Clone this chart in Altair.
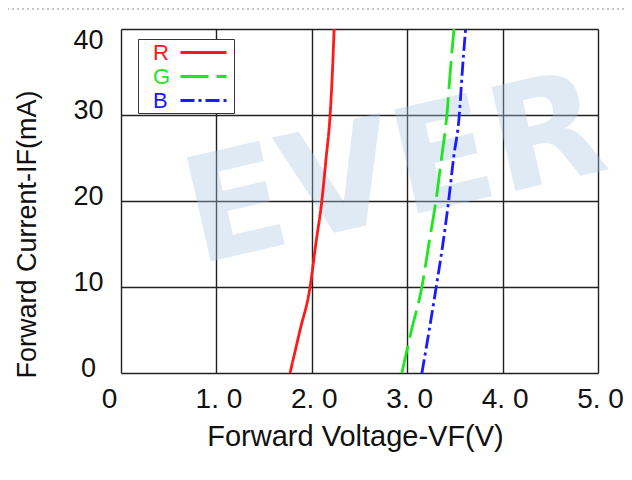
import altair as alt
import pandas as pd

# Forward current (mA) and forward voltages (V)
current_mA = [0, 5, 10, 15, 20, 25, 30, 35, 40]
vf_red = [1.772, 1.877, 1.982, 2.042, 2.105, 2.150, 2.192, 2.216, 2.234]
vf_green = [2.944, 3.045, 3.154, 3.227, 3.301, 3.360, 3.416, 3.451, 3.490]
vf_blue = [3.154, 3.231, 3.304, 3.374, 3.434, 3.486, 3.546, 3.577, 3.612]

series_names = ["R", "G", "B"]
series_colors = ["#ff1a1a", "#1fe61f", "#1a1aff"]
series_dashes = [[1, 0], [28, 8], [14, 4, 3, 4]]

x_ticks = [0, 1, 2, 3, 4, 5]
y_ticks = [0, 10, 20, 30, 40]

watermark_text = ["EVER"]
watermark_v = [2.87]
watermark_i = [23.2]

FONT = "Liberation Sans"

rows = []
for name, vals in zip(series_names, [vf_red, vf_green, vf_blue]):
    for i, v in zip(current_mA, vals):
        rows.append({"Series": name, "V": v, "I": i})
df = pd.DataFrame(rows)

x_scale = alt.Scale(domain=[0, 5], nice=False, zero=False)
y_scale = alt.Scale(domain=[0, 40], nice=False)

label_color = alt.ExprRef(
    "datum.label == 'R' ? '#ff1a1a' : datum.label == 'G' ? '#1fe61f' : '#1a1aff'"
)
symbol_dash = alt.ExprRef(
    "datum.label == 'G' ? [12, 4] : datum.label == 'B' ? [10, 3, 3, 3] : [1, 0]"
)

legend = alt.Legend(
    title=None,
    orient="none",
    legendX=17,
    legendY=10,
    symbolType="M-2.09,0H2.09",
    symbolSize=484,
    symbolStrokeWidth=3,
    symbolDash=symbol_dash,
    labelFont=FONT,
    labelFontSize=22,
    labelColor=label_color,
    labelAlign="left",
    labelBaseline="middle",
    labelOffset=alt.ExprRef("-63"),
    symbolOffset=52,
    padding=1,
    rowPadding=0,
    strokeColor="#333333",
    fillColor="white",
)

x_axis = alt.Axis(
    title="Forward Voltage-VF(V)",
    values=x_ticks,
    labelExpr="datum.value == 0 ? '0' : replace(format(datum.value, '.1f'), '.', '. ')",
    labelFont=FONT,
    labelFontSize=28,
    labelColor="#111111",
    labelBaseline="alphabetic",
    labelPadding=34,
    labelOffset={"condition": {"test": "datum.value == 0", "value": -12}, "value": 2},
    labelFlush=False,
    labelOverlap=False,
    ticks=False,
    tickSize=0,
    domain=False,
    grid=True,
    gridColor="#222222",
    gridWidth=1.4,
    titleFont=FONT,
    titleFontSize=29,
    titleFontWeight="normal",
    titleColor="#111111",
    titleX=234,
    titleY=72,
    titleAlign="center",
    titleBaseline="alphabetic",
)

y_axis = alt.Axis(
    title="Forward Current-IF(mA)",
    values=y_ticks,
    labelFont=FONT,
    labelFontSize=27,
    labelColor="#111111",
    labelAlign="center",
    labelBaseline="middle",
    labelPadding=33,
    labelOffset={"condition": {"test": "datum.value == 40", "value": 11}, "value": -5},
    labelFlush=False,
    labelOverlap=False,
    ticks=False,
    tickSize=0,
    domain=False,
    grid=True,
    gridColor="#222222",
    gridWidth=1.4,
    titleFont=FONT,
    titleFontSize=27,
    titleFontWeight="normal",
    titleColor="#111111",
    titleAngle=270,
    titleX=-94,
    titleY=205,
    titleAlign="center",
    titleBaseline="middle",
)

base = alt.Chart(df)

lines = base.mark_line(strokeWidth=2.8, interpolate="monotone").encode(
    x=alt.X("V:Q", scale=x_scale, axis=x_axis),
    y=alt.Y("I:Q", scale=y_scale, axis=y_axis),
    order=alt.Order("I:Q"),
    color=alt.Color(
        "Series:N",
        scale=alt.Scale(domain=series_names, range=series_colors),
        legend=legend,
        sort=series_names,
    ),
    strokeDash=alt.StrokeDash(
        "Series:N",
        scale=alt.Scale(domain=series_names, range=series_dashes),
        legend=None,
        sort=series_names,
    ),
)

wm_df = pd.DataFrame({"t": watermark_text, "V": watermark_v, "I": watermark_i})
watermark = alt.Chart(wm_df).mark_text(
    font="DejaVu Sans",
    fontSize=146,
    fontWeight="bold",
    angle=347,
    align="center",
    baseline="middle",
    color="#a9c7e3",
    opacity=0.36,
).encode(
    x=alt.X("V:Q", scale=x_scale),
    y=alt.Y("I:Q", scale=y_scale),
    text="t:N",
)

frame_df = pd.DataFrame({"k": [1]})
frame = alt.Chart(frame_df).mark_rect(
    filled=False, stroke="#b5b5b5", strokeWidth=1.5, strokeDash=[2, 3]
).encode(
    x=alt.value(-114),
    x2=alt.value(507),
    y=alt.value(-20),
    y2=alt.value(480),
)

chart = (
    alt.layer(frame, watermark, lines)
    .properties(
        width=477,
        height=344,
        autosize=alt.AutoSizeParams(type="none"),
        padding={"left": 113, "top": 21, "right": 26, "bottom": 99},
    )
    .configure_view(stroke="#222222", strokeWidth=1.6)
    .configure(background="white")
)

chart.save("out.html", embed_options={"renderer": "svg", "actions": False})
